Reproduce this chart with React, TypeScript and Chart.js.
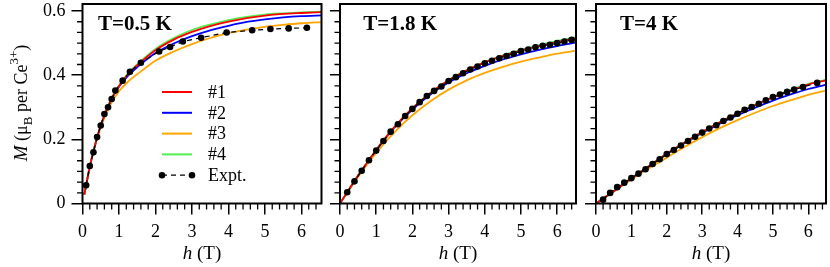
import React, { useEffect, useRef } from "react";
import { Chart, registerables } from "chart.js";

Chart.register(...registerables);

const FONT = "'Liberation Serif', 'Times New Roman', serif";

const seriesLabels = ["#1", "#2", "#3", "#4", "Expt."];
const seriesColors = ["#ff0000", "#0000ff", "#ffa500", "#4ff04f", "#000000"];
const panelTitles = ["T=0.5 K", "T=1.8 K", "T=4 K"];
const xTicks = [0, 1, 2, 3, 4, 5, 6];
const yTicks = [0, 0.2, 0.4, 0.6];

// ---- T = 0.5 K ----
const hTheory05 = [0.05, 0.1, 0.2, 0.3, 0.4, 0.5, 0.75, 1, 1.25, 1.5, 2, 2.5, 3, 3.5, 4, 4.5, 5, 5.5, 6, 6.6];
const m05_1 = [0.028, 0.057, 0.115, 0.163, 0.205, 0.243, 0.316, 0.366, 0.403, 0.431, 0.478, 0.511, 0.535, 0.553, 0.567, 0.578, 0.586, 0.591, 0.594, 0.597];
const m05_2 = [0.028, 0.057, 0.115, 0.163, 0.205, 0.243, 0.315, 0.364, 0.399, 0.425, 0.469, 0.499, 0.522, 0.540, 0.554, 0.566, 0.574, 0.580, 0.584, 0.587];
const m05_3 = [0.028, 0.057, 0.114, 0.162, 0.202, 0.238, 0.305, 0.350, 0.380, 0.403, 0.445, 0.474, 0.497, 0.516, 0.531, 0.542, 0.551, 0.557, 0.562, 0.566];
const m05_4 = [0.028, 0.057, 0.115, 0.163, 0.205, 0.243, 0.317, 0.368, 0.406, 0.434, 0.482, 0.516, 0.541, 0.558, 0.572, 0.582, 0.589, 0.593, 0.596, 0.598];
const hExpt05 = [0.1, 0.2, 0.3, 0.4, 0.5, 0.6, 0.7, 0.8, 0.9, 1.1, 1.3, 1.6, 2.1, 2.4, 2.75, 3.25, 3.95, 4.65, 5.15, 5.65, 6.15];
const mExpt05 = [0.057, 0.117, 0.160, 0.207, 0.243, 0.279, 0.300, 0.326, 0.352, 0.383, 0.411, 0.439, 0.474, 0.488, 0.505, 0.517, 0.533, 0.540, 0.544, 0.546, 0.548];

// ---- T = 1.8 K ----
const hTheory18 = [0, 0.5, 1, 1.5, 2, 2.5, 3, 3.5, 4, 4.5, 5, 5.5, 6, 6.6];
const m18_1 = [0, 0.087, 0.167, 0.238, 0.297, 0.345, 0.384, 0.415, 0.440, 0.460, 0.477, 0.491, 0.504, 0.517];
const m18_2 = [0, 0.087, 0.166, 0.236, 0.293, 0.340, 0.377, 0.406, 0.429, 0.449, 0.465, 0.479, 0.491, 0.503];
const m18_3 = [0, 0.083, 0.158, 0.222, 0.275, 0.319, 0.355, 0.384, 0.407, 0.426, 0.442, 0.455, 0.467, 0.478];
const m18_4 = [0, 0.087, 0.167, 0.238, 0.297, 0.345, 0.385, 0.416, 0.441, 0.462, 0.479, 0.494, 0.507, 0.520];
const hExpt18 = [0.2, 0.4, 0.6, 0.8, 1.0, 1.2, 1.4, 1.6, 1.8, 2.0, 2.2, 2.4, 2.6, 2.8, 3.0, 3.2, 3.4, 3.6, 3.8, 4.0, 4.2, 4.4, 4.6, 4.8, 5.0, 5.2, 5.4, 5.6, 5.8, 6.0, 6.2, 6.4];
const mExpt18 = [0.035, 0.069, 0.102, 0.135, 0.165, 0.195, 0.224, 0.247, 0.273, 0.295, 0.316, 0.335, 0.351, 0.365, 0.382, 0.394, 0.406, 0.418, 0.427, 0.437, 0.445, 0.453, 0.460, 0.467, 0.475, 0.480, 0.487, 0.492, 0.495, 0.500, 0.505, 0.510];

// ---- T = 4 K ----
const hTheory4 = [0, 0.5, 1, 1.5, 2, 2.5, 3, 3.5, 4, 4.5, 5, 5.5, 6, 6.6];
const m4_1 = [0, 0.038, 0.078, 0.117, 0.155, 0.190, 0.223, 0.253, 0.281, 0.307, 0.331, 0.352, 0.371, 0.386];
const m4_2 = [0, 0.038, 0.078, 0.116, 0.154, 0.188, 0.220, 0.249, 0.275, 0.299, 0.321, 0.340, 0.357, 0.373];
const m4_3 = [0, 0.037, 0.075, 0.110, 0.143, 0.176, 0.207, 0.235, 0.260, 0.283, 0.304, 0.322, 0.339, 0.355];
const m4_4 = [0, 0.038, 0.078, 0.117, 0.155, 0.190, 0.223, 0.254, 0.282, 0.308, 0.332, 0.354, 0.373, 0.388];
const hExpt4 = [0.2, 0.4, 0.6, 0.8, 1.0, 1.2, 1.4, 1.6, 1.8, 2.0, 2.2, 2.4, 2.6, 2.8, 3.0, 3.2, 3.4, 3.6, 3.8, 4.0, 4.2, 4.4, 4.6, 4.8, 5.0, 5.2, 5.4, 5.6, 5.85, 6.25];
const mExpt4 = [0.012, 0.033, 0.051, 0.065, 0.079, 0.093, 0.107, 0.123, 0.138, 0.154, 0.167, 0.181, 0.195, 0.208, 0.221, 0.234, 0.244, 0.257, 0.268, 0.280, 0.292, 0.301, 0.311, 0.322, 0.332, 0.340, 0.348, 0.355, 0.363, 0.376];

type PanelSpec = {
  title: string;
  hT: number[];
  theory: number[][];
  hE: number[];
  mE: number[];
  canvasLeft: number;
  canvasWidth: number;
  areaLeft: number;
  areaRight: number;
  xMax: number;
  titleDx: number;
  first: boolean;
};

const CANVAS_H = 267;
const AREA_TOP = 3.5;
const AREA_BOTTOM = 203.5;
const Y_MAX = 0.622;

const panels: PanelSpec[] = [
  { title: panelTitles[0], hT: hTheory05, theory: [m05_1, m05_2, m05_3, m05_4], hE: hExpt05, mE: mExpt05, canvasLeft: 0, canvasWidth: 330, areaLeft: 82.5, areaRight: 321.5, xMax: 6.55, titleDx: 15.5, first: true },
  { title: panelTitles[1], hT: hTheory18, theory: [m18_1, m18_2, m18_3, m18_4], hE: hExpt18, mE: mExpt18, canvasLeft: 330, canvasWidth: 250, areaLeft: 340, areaRight: 576, xMax: 6.52, titleDx: 23.3, first: false },
  { title: panelTitles[2], hT: hTheory4, theory: [m4_1, m4_2, m4_3, m4_4], hE: hExpt4, mE: mExpt4, canvasLeft: 580, canvasWidth: 250, areaLeft: 596, areaRight: 826.5, xMax: 6.5, titleDx: 24, first: false },
];

const toPoints = (h: number[], m: number[]) => h.map((x, i) => ({ x, y: m[i] }));

function drawRich(ctx: CanvasRenderingContext2D, parts: { t: string; style: string; size: number; dy: number }[], cx: number, baseY: number) {
  let total = 0;
  const widths = parts.map((p) => {
    ctx.font = `${p.style} ${p.size}px ${FONT}`;
    const w = ctx.measureText(p.t).width;
    total += w;
    return w;
  });
  let x = cx - total / 2;
  parts.forEach((p, i) => {
    ctx.font = `${p.style} ${p.size}px ${FONT}`;
    ctx.fillText(p.t, x, baseY + p.dy);
    x += widths[i];
  });
}

const decorPlugin = {
  id: "decor",
  afterDraw(chart: any, _args: any, opts: any) {
    const ctx: CanvasRenderingContext2D = chart.ctx;
    const a = chart.chartArea;
    const xs = chart.scales.x;
    const ys = chart.scales.y;
    ctx.save();
    ctx.strokeStyle = "#000";
    ctx.fillStyle = "#000";
    ctx.setLineDash([]);
    // minor ticks
    ctx.lineWidth = 1.3;
    ctx.beginPath();
    for (let k = 1; k * 0.2 <= xs.max + 1e-9; k++) {
      if (k % 5 === 0) continue;
      const px = xs.getPixelForValue(k * 0.2);
      ctx.moveTo(px, a.bottom);
      ctx.lineTo(px, a.bottom + 6);
    }
    for (let k = 1; k / 30 <= ys.max + 1e-9; k++) {
      if (k % 6 === 0) continue;
      const py = ys.getPixelForValue(k / 30);
      ctx.moveTo(a.left, py);
      ctx.lineTo(a.left - 5.5, py);
    }
    ctx.stroke();
    // frame
    ctx.lineWidth = 2;
    ctx.strokeRect(a.left, a.top, a.right - a.left, a.bottom - a.top);
    // panel title
    ctx.textAlign = "left";
    ctx.textBaseline = "alphabetic";
    ctx.font = `bold 21px ${FONT}`;
    ctx.fillText(opts.title, a.left + opts.titleDx, 30);
    // x-axis title
    drawRich(
      ctx,
      [
        { t: "h", style: "italic", size: 19, dy: 0 },
        { t: " (T)", style: "normal", size: 19, dy: 0 },
      ],
      (a.left + a.right) / 2,
      259
    );
    if (opts.first) {
      // y-axis title
      ctx.save();
      ctx.translate(26.5, 103);
      ctx.rotate(-Math.PI / 2);
      drawRich(
        ctx,
        [
          { t: "M", style: "italic", size: 19, dy: 0 },
          { t: " (\u03bc", style: "normal", size: 18, dy: 0 },
          { t: "B", style: "normal", size: 13, dy: 5 },
          { t: " per Ce", style: "normal", size: 18, dy: 0 },
          { t: "3+", style: "normal", size: 13, dy: -9 },
          { t: ")", style: "normal", size: 18, dy: 0 },
        ],
        0,
        0
      );
      ctx.restore();
      // legend
      const x1 = 162;
      const x2 = 192;
      const tx = 208;
      const y0 = 92;
      const dy = 20.8;
      ctx.font = `18px ${FONT}`;
      ctx.textBaseline = "middle";
      chart.data.datasets.forEach((ds: any, i: number) => {
        const y = y0 + i * dy;
        ctx.strokeStyle = ds.borderColor;
        if (ds.label === "Expt.") {
          ctx.lineWidth = 1.2;
          ctx.setLineDash([5, 4]);
          ctx.beginPath();
          ctx.moveTo(x1, y);
          ctx.lineTo(x2, y);
          ctx.stroke();
          ctx.setLineDash([]);
          ctx.beginPath();
          ctx.arc(x1, y, 3.3, 0, Math.PI * 2);
          ctx.arc(x2, y, 3.3, 0, Math.PI * 2);
          ctx.fillStyle = "#000";
          ctx.fill();
        } else {
          ctx.lineWidth = 2;
          ctx.beginPath();
          ctx.moveTo(x1, y);
          ctx.lineTo(x2, y);
          ctx.stroke();
        }
        ctx.fillStyle = "#000";
        ctx.fillText(ds.label, tx, y + 1);
      });
    }
    ctx.restore();
  },
};

function PanelChart({ p }: { p: PanelSpec }) {
  const ref = useRef<HTMLCanvasElement>(null);
  useEffect(() => {
    const drawOrder = [1, 3, 4, 2];
    const yWidth = p.areaLeft - p.canvasLeft;
    const rightPad = p.canvasLeft + p.canvasWidth - p.areaRight;
    const chart = new Chart(ref.current as HTMLCanvasElement, {
      type: "scatter",
      data: {
        datasets: [
          ...p.theory.map((m, i) => ({
            label: seriesLabels[i],
            data: toPoints(p.hT, m),
            showLine: true,
            borderColor: seriesColors[i],
            backgroundColor: seriesColors[i],
            borderWidth: 1.8,
            pointRadius: 0,
            cubicInterpolationMode: "monotone" as const,
            order: drawOrder[i],
          })),
          {
            label: seriesLabels[4],
            data: toPoints(p.hE, p.mE),
            showLine: true,
            borderColor: seriesColors[4],
            backgroundColor: seriesColors[4],
            borderWidth: 1.2,
            borderDash: [5, 4],
            pointRadius: 3.3,
            pointBorderWidth: 0,
            pointBackgroundColor: seriesColors[4],
            order: 0,
          },
        ],
      },
      options: {
        responsive: false,
        animation: false,
        events: [],
        layout: { padding: { left: 0, right: rightPad, top: AREA_TOP, bottom: 0 } },
        plugins: {
          legend: { display: false },
          tooltip: { enabled: false },
          decor: { title: p.title, titleDx: p.titleDx, first: p.first },
        } as any,
        scales: {
          x: {
            type: "linear",
            min: 0,
            max: p.xMax,
            afterBuildTicks: (s: any) => {
              s.ticks = xTicks.map((v) => ({ value: v }));
              s.min = 0;
              s.max = p.xMax;
            },
            afterFit: (s: any) => {
              s.height = CANVAS_H - AREA_BOTTOM;
              s.paddingLeft = 0;
              s.paddingRight = 0;
            },
            ticks: {
              font: { family: FONT, size: 18 },
              color: "#000",
              padding: 7,
              maxRotation: 0,
              autoSkip: false,
              callback: (v: any) => String(v),
            },
            grid: { drawOnChartArea: false, drawTicks: true, tickLength: 11, color: "#000", lineWidth: 1.5 },
            border: { display: false },
          },
          y: {
            type: "linear",
            min: 0,
            max: Y_MAX,
            afterBuildTicks: (s: any) => {
              s.ticks = yTicks.map((v) => ({ value: v }));
              s.min = 0;
              s.max = Y_MAX;
            },
            afterFit: (s: any) => {
              s.width = yWidth;
              s.paddingTop = 0;
              s.paddingBottom = 0;
            },
            ticks: {
              display: p.first,
              font: { family: FONT, size: 18 },
              color: "#000",
              padding: 6,
              callback: (v: any) => (Number(v) === 0 ? "0" : Number(v).toFixed(1)),
            },
            grid: { drawOnChartArea: false, drawTicks: true, tickLength: 11, color: "#000", lineWidth: 1.5 },
            border: { display: false },
          },
        },
      },
      plugins: [decorPlugin as any],
    } as any);
    return () => chart.destroy();
  }, [p]);
  return (
    <canvas
      ref={ref}
      width={p.canvasWidth}
      height={CANVAS_H}
      style={{ position: "absolute", left: p.canvasLeft, top: 0, width: p.canvasWidth, height: CANVAS_H }}
    />
  );
}

export default function App() {
  return (
    <div style={{ position: "absolute", left: 0, top: 0, width: 830, height: CANVAS_H, background: "#fff", overflow: "hidden" }}>
      {panels.map((p, i) => (
        <PanelChart key={i} p={p} />
      ))}
    </div>
  );
}
